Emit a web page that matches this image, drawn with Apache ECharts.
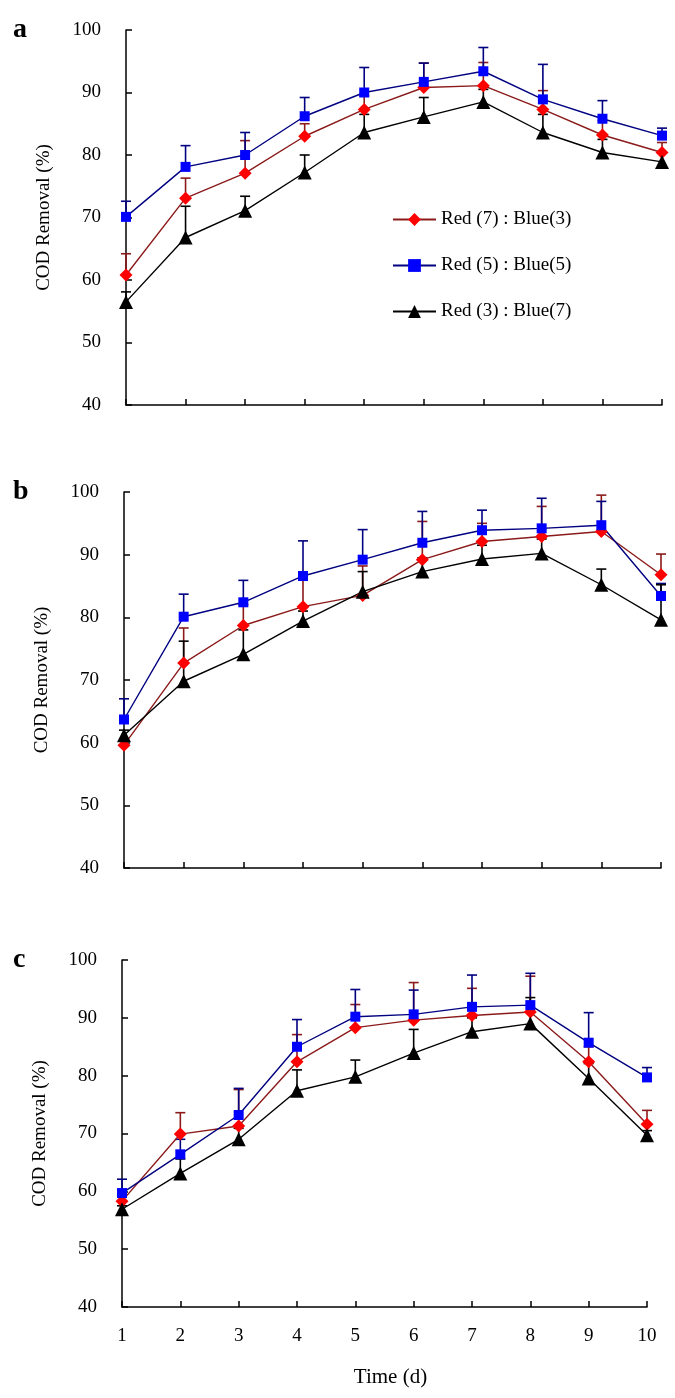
<!DOCTYPE html>
<html>
<head>
<meta charset="utf-8">
<script src="https://cdn.jsdelivr.net/npm/echarts@6/dist/echarts.min.js"></script>
<style>
  html, body { margin: 0; padding: 0; background: #fff; }
  #chart { width: 675px; height: 1398px; }
</style>
</head>
<body>
<div id="chart"></div>
<script>
var days = ['1', '2', '3', '4', '5', '6', '7', '8', '9', '10']
var yTicks = [40, 50, 60, 70, 80, 90, 100]
var names = ['Red (7) : Blue(3)', 'Red (5) : Blue(5)', 'Red (3) : Blue(7)']
var panelLabels = ['a', 'b', 'c']

// panel a
var redA = [60.8, 73.1, 77.1, 83.0, 87.3, 90.8, 91.1, 87.3, 83.2, 80.4]
var redAErr = [3.4, 3.2, 5.2, 2.0, 2.2, 3.9, 3.7, 3.0, 2.3, 1.6]
var blueA = [70.1, 78.1, 80.0, 86.2, 90.0, 91.7, 93.4, 88.9, 85.8, 83.1]
var blueAErr = [2.5, 3.4, 3.6, 3.0, 4.0, 3.0, 3.8, 5.6, 2.9, 1.2]
var blackA = [56.5, 66.8, 71.1, 77.2, 83.6, 86.1, 88.5, 83.6, 80.4, 78.9]
var blackAErr = [1.6, 5.0, 2.3, 2.8, 2.9, 3.1, 2.0, 2.9, 2.1, 1.4]

// panel b
var redB = [59.6, 72.7, 78.7, 81.7, 83.5, 89.2, 92.1, 92.9, 93.7, 86.8]
var redBErr = [0.9, 5.6, 3.3, 4.3, 4.7, 6.1, 2.9, 4.8, 5.8, 3.3]
var blueB = [63.7, 80.1, 82.4, 86.6, 89.2, 91.9, 93.9, 94.2, 94.7, 83.4]
var blueBErr = [3.3, 3.6, 3.5, 5.6, 4.8, 5.0, 3.2, 4.8, 3.8, 2.0]
var blackB = [61.2, 69.8, 74.1, 79.4, 84.1, 87.3, 89.3, 90.2, 85.2, 79.6]
var blackBErr = [0.8, 6.4, 3.9, 1.6, 3.2, 2.2, 2.2, 2.3, 2.5, 5.6]

// panel c
var redC = [58.3, 69.9, 71.3, 82.4, 88.3, 89.6, 90.4, 91.0, 82.4, 71.6]
var redCErr = [1.0, 3.7, 6.3, 4.7, 4.0, 6.5, 4.7, 6.2, 2.6, 2.4]
var blueC = [59.7, 66.4, 73.2, 85.0, 90.2, 90.6, 91.9, 92.2, 85.7, 79.7]
var blueCErr = [2.4, 2.6, 4.6, 4.7, 4.7, 4.2, 5.5, 5.5, 5.2, 1.7]
var blackC = [56.9, 63.1, 69.0, 77.4, 79.8, 83.9, 87.6, 89.0, 79.5, 69.7]
var blackCErr = [0.6, 2.5, 1.9, 3.6, 2.9, 4.1, 2.4, 4.5, 2.6, 0.8]

var font = 'Liberation Serif'
var lineColors = ['#8b1a1a', '#000080', '#000000']
var markColors = ['#ff0000', '#0000ff', '#000000']
var symbols = ['diamond', 'rect', 'triangle']
var symbolSizes = [13, 10, 14]

var panels = [
    { vals: [redA, blueA, blackA], errs: [redAErr, blueAErr, blackAErr], grid: { left: 126, top: 30, width: 536, height: 375 } },
    { vals: [redB, blueB, blackB], errs: [redBErr, blueBErr, blackBErr], grid: { left: 124, top: 492, width: 537, height: 376 } },
    { vals: [redC, blueC, blackC], errs: [redCErr, blueCErr, blackCErr], grid: { left: 122, top: 960, width: 525, height: 347 } }
]

var grids = [], xAxes = [], yAxes = [], series = [], titles = []

panels.forEach(function (p, k) {
    grids.push(p.grid)
    var last = k == panels.length - 1
    xAxes.push({
        type: 'category',
        gridIndex: k,
        data: days,
        boundaryGap: false,
        axisLine: { lineStyle: { color: '#000', width: 1.5 } },
        axisTick: { inside: true, length: 6, lineStyle: { color: '#000', width: 1.5 } },
        axisLabel: { show: last, margin: 20, color: '#000', fontFamily: font, fontSize: 19 },
        splitLine: { show: false },
        name: last ? 'Time (d)' : '',
        nameLocation: 'middle',
        nameGap: 60,
        nameTextStyle: { color: '#000', fontFamily: font, fontSize: 21, padding: [0, 0, 0, 12] }
    })
    yAxes.push({
        type: 'value',
        gridIndex: k,
        min: yTicks[0],
        max: yTicks[yTicks.length - 1],
        interval: 10,
        axisLine: { show: true, lineStyle: { color: '#000', width: 1.5 } },
        axisTick: { show: true, inside: true, length: 6, lineStyle: { color: '#000', width: 1.5 } },
        axisLabel: { margin: 25, color: '#000', fontFamily: font, fontSize: 19 },
        splitLine: { show: false },
        name: 'COD Removal (%)',
        nameLocation: 'middle',
        nameGap: 72,
        nameTextStyle: { color: '#000', fontFamily: font, fontSize: 19 }
    })
    titles.push({
        text: panelLabels[k],
        left: 8,
        top: p.grid.top - 19,
        textStyle: { fontFamily: font, fontSize: 28, fontWeight: 'bold', color: '#000' }
    })
    p.vals.forEach(function (vals, s) {
        var errData = vals.map(function (v, i) { return [i, v, v + p.errs[s][i]] })
        series.push({
            name: 'err' + k + s,
            type: 'custom',
            xAxisIndex: k,
            yAxisIndex: k,
            z: 1,
            encode: { x: 0, y: [1, 2] },
            renderItem: function (params, api) {
                var p0 = api.coord([api.value(0), api.value(1)])
                var p1 = api.coord([api.value(0), api.value(2)])
                var st = { stroke: lineColors[s], lineWidth: 1.6 }
                return {
                    type: 'group',
                    children: [
                        { type: 'line', shape: { x1: p0[0], y1: p0[1], x2: p1[0], y2: p1[1] }, style: st },
                        { type: 'line', shape: { x1: p1[0] - 5, y1: p1[1], x2: p1[0] + 5, y2: p1[1] }, style: st }
                    ]
                }
            },
            data: errData
        })
        series.push({
            name: names[s],
            type: 'line',
            xAxisIndex: k,
            yAxisIndex: k,
            z: 3,
            symbol: symbols[s],
            symbolSize: symbolSizes[s],
            showAllSymbol: true,
            lineStyle: { color: lineColors[s], width: 1.4 },
            itemStyle: { color: markColors[s], borderWidth: 0 },
            emphasis: { disabled: true },
            data: vals
        })
    })
})

var chart = echarts.init(document.getElementById('chart'))
chart.setOption({
    animation: false,
    backgroundColor: '#fff',
    title: titles,
    legend: {
        data: names,
        orient: 'vertical',
        left: 387,
        top: 205,
        itemGap: 27,
        itemWidth: 43,
        itemHeight: 16,
        textStyle: { color: '#000', fontFamily: font, fontSize: 19 }
    },
    grid: grids,
    xAxis: xAxes,
    yAxis: yAxes,
    series: series
})
</script>
</body>
</html>
